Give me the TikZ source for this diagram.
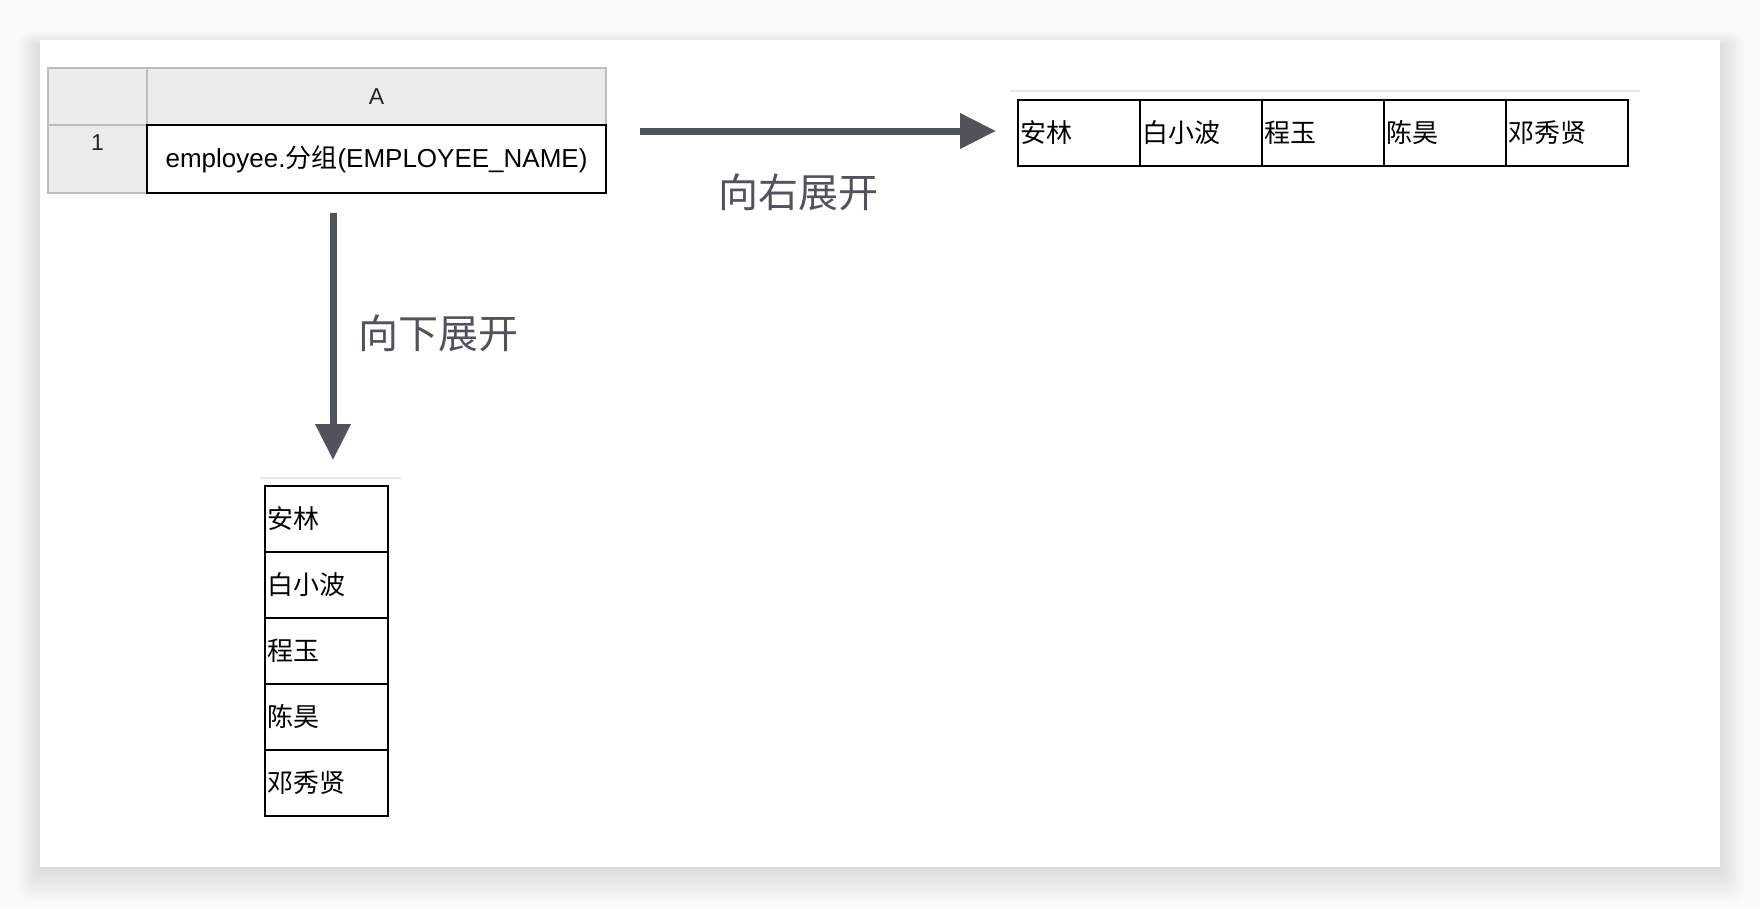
\documentclass[tikz,border=0pt]{standalone}
\usepackage{fontspec}
\setmainfont{Liberation Sans}
\newfontfamily\cjk{Noto Sans CJK SC}
\usetikzlibrary{arrows.meta,positioning}
\definecolor{sheetgray}{HTML}{ECECEC}
\definecolor{sheetline}{HTML}{BDBDBD}
\definecolor{arrowslate}{HTML}{50535C}
\definecolor{faintline}{HTML}{E8E8E8}

\begin{document}
\begin{tikzpicture}[x=1pt,y=-1pt,
  hdr/.style={draw=sheetline, fill=sheetgray, line width=1.5pt, inner sep=0pt, outer sep=0pt},
  cell/.style={draw=black, line width=2pt, fill=white, inner sep=0pt, outer sep=0pt},
  namecell/.style={cell, minimum height=66pt, inner xsep=2pt, align=left,
    font=\cjk\fontsize{26}{26}\selectfont},
  expand/.style={draw=arrowslate, line width=7pt, -{Triangle[length=36pt,width=34pt]}},
  hint/.style={text=arrowslate, font=\cjk\fontsize{40}{40}\selectfont}]
\useasboundingbox (0,0) rectangle (1760,908);
\fill[white!98!black] (0,0) rectangle (1760,908);
% soft shadow of the card
\foreach \k in {1,...,14} {
  \fill[black, opacity=0.009, rounded corners=\k pt] (40-1.6*\k,40-\k+6) rectangle (1720+1.8*\k,867+2.5*\k);
}
\fill[white] (40,40) rectangle (1720,867);

% the sheet
\node[hdr, minimum width=99pt, minimum height=57pt] (corner) at (97.5,96.5) {};
\node[hdr, minimum width=459pt, minimum height=57pt, right=0pt of corner,
  font=\fontsize{23}{23}\selectfont, text=black!85] (colA) {A};
\node[hdr, minimum width=99pt, minimum height=68pt, below=0pt of corner] (row1) {};
\node[font=\fontsize{23}{23}\selectfont, text=black!85, below=6pt of row1.north] (row1num) {1};
\node[cell, minimum width=459pt, minimum height=68pt, right=0pt of row1,
  font=\fontsize{26}{26}\selectfont] (expr) {employee.{\cjk 分组}(EMPLOYEE\_NAME)};

% expanded to the right
\draw[faintline, line width=1.5pt] (1010,91) -- (1640,91);
\node[namecell, text width=118pt] (r1) at (1079,133) {安林};
\node[namecell, text width=118pt, right=0pt of r1] (r2) {白小波};
\node[namecell, text width=118pt, right=0pt of r2] (r3) {程玉};
\node[namecell, text width=118pt, right=0pt of r3] (r4) {陈昊};
\node[namecell, text width=118pt, right=0pt of r4] (r5) {邓秀贤};

% expanded downwards
\draw[faintline, line width=1.5pt] (260,478) -- (401,478);
\node[namecell, text width=119pt] (d1) at (326.5,519) {安林};
\node[namecell, text width=119pt, below=0pt of d1] (d2) {白小波};
\node[namecell, text width=119pt, below=0pt of d2] (d3) {程玉};
\node[namecell, text width=119pt, below=0pt of d3] (d4) {陈昊};
\node[namecell, text width=119pt, below=0pt of d4] (d5) {邓秀贤};

% arrows
\coordinate (rstart) at (640,131);
\coordinate (rend) at (996,131);
\coordinate (dstart) at (333,213);
\coordinate (dend) at (333,460);
\draw[expand] (rstart) -- (rend);
\draw[expand] (dstart) -- (dend);
\node[hint] (rlabel) at (798,192) {向右展开};
\node[hint] (dlabel) at (438,333) {向下展开};
\end{tikzpicture}
\end{document}
